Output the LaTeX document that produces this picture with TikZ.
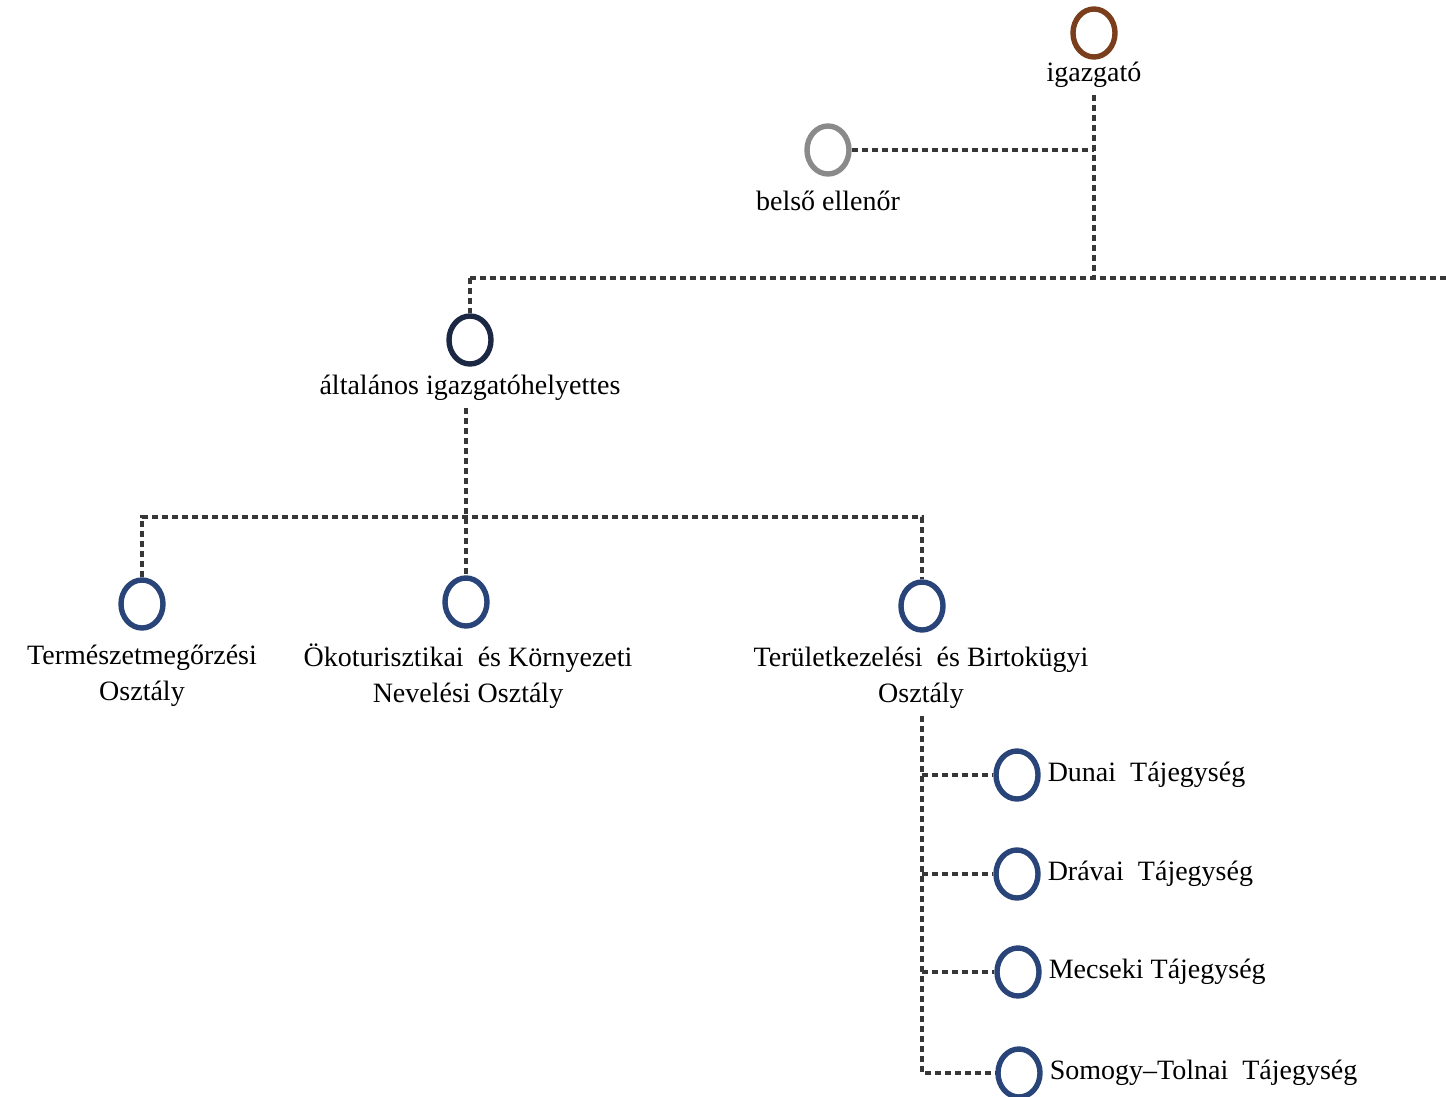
\documentclass[tikz,border=0pt]{standalone}
\usepackage{fontspec}
\setmainfont{Liberation Serif}
\usetikzlibrary{calc,positioning,shapes.geometric}
\definecolor{barna}{RGB}{122,62,28}
\definecolor{szurke}{RGB}{138,138,138}
\definecolor{sotetkek}{RGB}{26,40,68}
\definecolor{kek}{RGB}{40,68,120}
\definecolor{pontszin}{RGB}{55,55,55}

\begin{document}
\begin{tikzpicture}[x=0.5pt,y=-0.5pt, every node/.style={font=\fontsize{14}{18}\selectfont, text=black},
    kor/.style={ellipse,draw,line width=2.7pt,minimum width=21pt,minimum height=24pt,inner sep=0pt},
    pont/.style={draw=pontszin,line width=2.3pt,dash pattern=on 3pt off 2pt}]
        \useasboundingbox (0,0) rectangle (1446,1097);
        % vezetes
        \node[kor,draw=barna] (1) at (1094,33) {};
        \node (2) at (1094,75) {igazgató};
        \node[kor,draw=szurke] (3) at (828,150) {};
        \node (4) at (828,201) {belső ellenőr};
        \node[kor,draw=sotetkek] (5) at (470,340) {};
        \node (6) at (470,388) {általános igazgatóhelyettes};
        % osztalyok
        \node[kor,draw=kek] (7) at (142,604) {};
        \node[align=center] (8) at (142,676) {Természetmegőrzési\\Osztály};
        \node[kor,draw=kek] (9) at (466,602) {};
        \node[align=center] (10) at (468,676) {Ökoturisztikai \ és Környezeti\\Nevelési Osztály};
        \node[kor,draw=kek] (11) at (922,606) {};
        \node[align=center] (12) at (921,678) {Területkezelési \ és Birtokügyi\\Osztály};
        % tajegysegek
        \node[kor,draw=kek] (13) at (1017,775) {};
        \node[kor,draw=kek] (14) at (1017,874) {};
        \node[kor,draw=kek] (15) at (1018,972) {};
        \node[kor,draw=kek] (16) at (1019,1073) {};
        \node[right=0pt of 13] (17) {Dunai \ Tájegység};
        \node[right=0pt of 14] (18) {Drávai \ Tájegység};
        \node[right=0pt of 15] (19) {Mecseki Tájegység};
        \node[right=0pt of 16] (20) {Somogy–Tolnai \ Tájegység};

        \coordinate (21) at (1094,150);
        \coordinate (22) at (1094,278);
        \coordinate (23) at (5 |- 22);
        \coordinate (24) at (1446,278);
        \coordinate (25) at (922,517);
        \coordinate (26) at ($(12.south)+(1,0)$);
        \coordinate (27) at (26 |- 16);

        \draw[pont] (2.south) -- (22);
        \draw[pont] (3.east) -- (21);
        \draw[pont] (23) -- (24);
        \draw[pont] (23) -- (5.north);
        \draw[pont] (6.south -| 9.north) -- (9.north);
        \draw[pont] (7.north) |- (25) -- (11.north);
        \draw[pont] (26) -- (27) -- (16.west);
        \draw[pont] (13.west -| 26) -- (13.west);
        \draw[pont] (14.west -| 26) -- (14.west);
        \draw[pont] (15.west -| 26) -- (15.west);
    \end{tikzpicture}
\end{document}
